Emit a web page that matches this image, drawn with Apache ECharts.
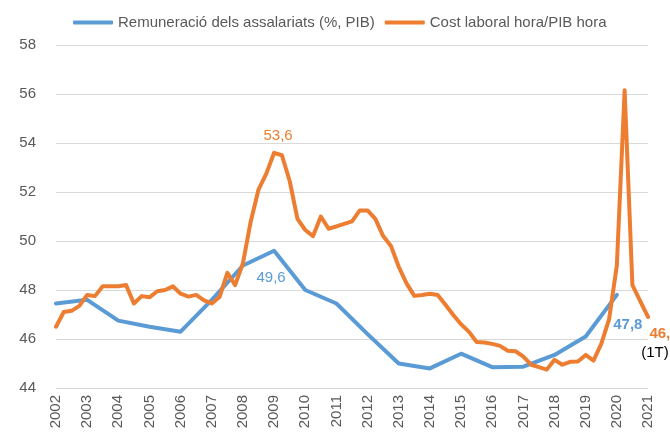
<!DOCTYPE html>
<html>
<head>
<meta charset="utf-8">
<script src="https://cdn.jsdelivr.net/npm/echarts@6/dist/echarts.min.js"></script>
<style>
  html, body { margin: 0; padding: 0; background: #fff; }
  #chart { width: 670px; height: 432px; }
</style>
</head>
<body>
<div id="chart"></div>
<script>
// Years on the axis and the quarterly series (2002T1 .. 2021T1)
var years = [2002, 2003, 2004, 2005, 2006, 2007, 2008, 2009, 2010, 2011,
             2012, 2013, 2014, 2015, 2016, 2017, 2018, 2019, 2020, 2021];
var lastQuarterOfFinalYear = 1;

// Remuneració dels assalariats (%, PIB) — annual values, 2002..2020
var remuneracio = [47.45, 47.6, 46.75, 46.5, 46.3, 47.6, 49.0, 49.6, 48.0, 47.45,
                   46.2, 45.0, 44.8, 45.4, 44.85, 44.87, 45.35, 46.1, 47.8];

// Cost laboral hora / PIB hora — quarterly values
var costLaboral = [
  46.5, 47.1, 47.15, 47.35,
  47.8, 47.75, 48.15, 48.15,
  48.15, 48.2, 47.45, 47.75,
  47.7, 47.95, 48.0, 48.15,
  47.85, 47.73, 47.8, 47.58,
  47.45, 47.72, 48.7, 48.2,
  49.1, 50.8, 52.1, 52.75,
  53.6, 53.5, 52.45, 50.9,
  50.45, 50.2, 51.0, 50.5,
  50.6, 50.7, 50.8, 51.25,
  51.25, 50.9, 50.2, 49.8,
  48.95, 48.27, 47.76, 47.8,
  47.85, 47.8, 47.4, 46.98,
  46.6, 46.3, 45.88, 45.86,
  45.8, 45.72, 45.52, 45.5,
  45.28, 44.95, 44.85, 44.75,
  45.15, 44.95, 45.07, 45.08,
  45.35, 45.12, 45.8, 46.8,
  49.0, 56.15, 48.2, 47.55,
  46.9
];

var yTicks = { min: 44, max: 58, interval: 2 };

var BLUE = '#5B9BD5';
var ORANGE = '#ED7D31';
var GREY = '#595959';
var FONT = 'Liberation Sans, Arial, sans-serif';

// Quarter categories
var categories = [];
years.forEach(function (y, i) {
  var nq = (i === years.length - 1) ? lastQuarterOfFinalYear : 4;
  for (var q = 1; q <= nq; q++) categories.push(y + 'T' + q);
});

function fmt(v) { return v.toFixed(1).replace('.', ','); }
function valueLabel(p) { return fmt(p.value); }

// Annual series placed at the first quarter of each year
var blueData = categories.map(function () { return null; });
remuneracio.forEach(function (v, i) { blueData[i * 4] = v; });

var bluePeakIdx = blueData.indexOf(Math.max.apply(null, remuneracio));
var blueLastIdx = (remuneracio.length - 1) * 4;
blueData = blueData.map(function (v, i) {
  if (i === bluePeakIdx) {
    return { value: v, label: { show: true, position: 'bottom', distance: 20, offset: [-3, 0],
      color: BLUE, fontSize: 15, fontFamily: FONT, formatter: valueLabel } };
  }
  if (i === blueLastIdx) {
    return { value: v, label: { show: true, position: 'bottom', distance: 5, offset: [11, 17],
      color: BLUE, fontSize: 15, fontWeight: 'bold', fontFamily: FONT, formatter: valueLabel } };
  }
  return v;
});

var orangePeakIdx = costLaboral.indexOf(Math.max.apply(null, costLaboral.slice(0, 60)));
var orangeLastIdx = costLaboral.length - 1;
var orangeData = costLaboral.map(function (v, i) {
  if (i === orangePeakIdx) {
    return { value: v, label: { show: true, position: 'top', distance: 9, offset: [4, 0],
      color: ORANGE, fontSize: 15, fontFamily: FONT, formatter: valueLabel } };
  }
  if (i === orangeLastIdx) {
    return { value: v, label: { show: true, position: 'bottom', distance: 5, offset: [16, 4],
      color: ORANGE, fontSize: 15, fontWeight: 'bold', fontFamily: FONT, formatter: valueLabel } };
  }
  return v;
});

var chart = echarts.init(document.getElementById('chart'), null, { renderer: 'canvas' });
chart.setOption({
  animation: false,
  backgroundColor: '#fff',
  legend: {
    top: 15,
    left: 73,
    padding: 0,
    itemWidth: 40,
    itemHeight: 4,
    itemGap: 10,
    icon: 'roundRect',
    textStyle: { color: GREY, fontSize: 15, fontFamily: FONT },
    data: ['Remuneració dels assalariats (%, PIB)', 'Cost laboral hora/PIB hora']
  },
  grid: { left: 56, right: 22, top: 45, bottom: 44, containLabel: false },
  xAxis: {
    type: 'category',
    data: categories,
    boundaryGap: false,
    axisLine: { show: false },
    axisTick: { show: false },
    splitLine: { show: false },
    axisLabel: {
      rotate: 90,
      margin: 7,
      color: GREY,
      fontSize: 15,
      fontFamily: FONT,
      interval: function (idx) { return idx % 4 === 0; },
      formatter: function (v) { return v.split('T')[0]; }
    }
  },
  yAxis: {
    type: 'value',
    min: yTicks.min,
    max: yTicks.max,
    interval: yTicks.interval,
    axisLine: { show: false },
    axisTick: { show: false },
    axisLabel: { color: GREY, fontSize: 15, fontFamily: FONT, margin: 20 },
    splitLine: { lineStyle: { color: '#d9d9d9', width: 1 } }
  },
  series: [
    {
      name: 'Remuneració dels assalariats (%, PIB)',
      type: 'line',
      data: blueData,
      connectNulls: true,
      showSymbol: true,
      symbol: 'circle',
      symbolSize: 0,
      color: BLUE,
      lineStyle: { color: BLUE, width: 4, join: 'round', cap: 'round' },
      z: 2
    },
    {
      name: 'Cost laboral hora/PIB hora',
      type: 'line',
      data: orangeData,
      showSymbol: true,
      symbol: 'circle',
      symbolSize: 0,
      color: ORANGE,
      lineStyle: { color: ORANGE, width: 4, join: 'round', cap: 'round' },
      z: 3,
      markPoint: {
        symbol: 'circle',
        symbolSize: 0,
        silent: true,
        data: [{
          coord: [orangeLastIdx, costLaboral[orangeLastIdx]],
          label: { show: true, position: 'bottom', distance: 5, offset: [7, 23],
            color: '#000', fontSize: 15, fontFamily: FONT, formatter: '(1T)' }
        }]
      }
    }
  ]
});
</script>
</body>
</html>
